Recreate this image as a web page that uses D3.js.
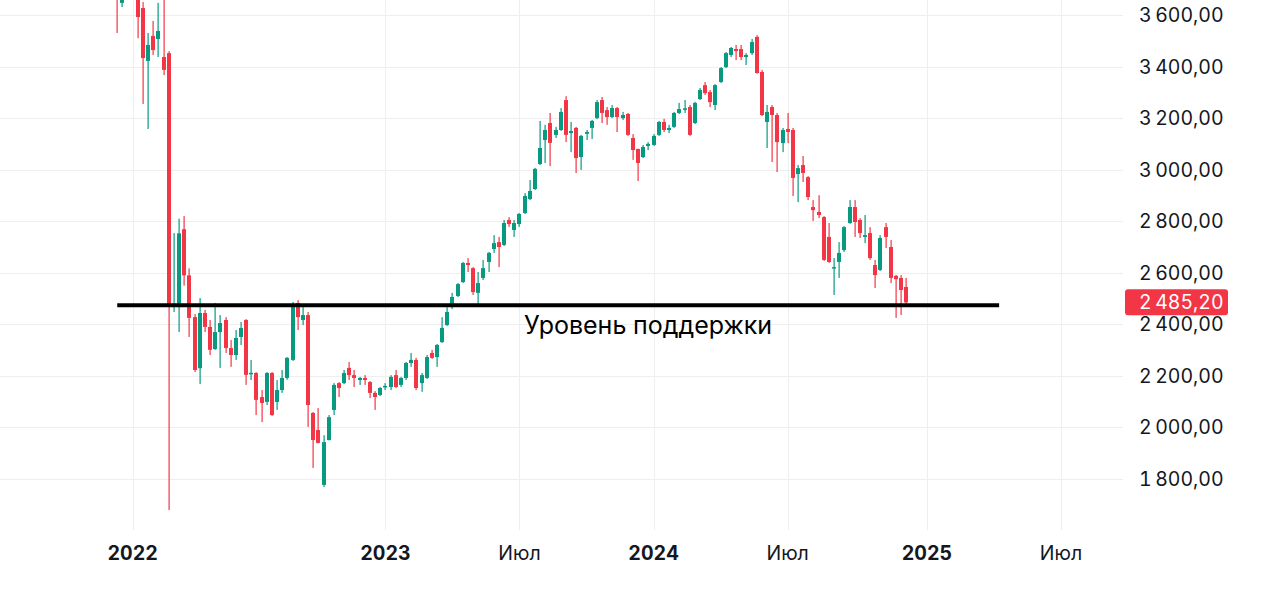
<!DOCTYPE html>
<html><head><meta charset="utf-8">
<script src="https://cdn.jsdelivr.net/npm/d3@7"></script>
<style>html,body{margin:0;padding:0;background:#fff;}svg{display:block;}text{font-variant-numeric:tabular-nums;}</style>
</head><body>
<svg id="chart" width="1280" height="590"></svg>
<script>
// ---- DATA (weekly candles, bar index relative to first week of 2022) ----
const firstBarIndex = -3;
const open = [
  3790,3647,3720,3800,3700,3627,3422,3519,3507,3437,
  3452,2470,2467,2769,2590,2428,2230,2444,2390,2304,
  2370,2417,2308,2281,2351,2417,2207,2211,2118,2099,
  2211,2099,2145,2192,2262,2483,2417,2436,2056,1990,
  1777,1951,2068,2172,2172,2231,2203,2184,2192,2176,
  2134,2126,2157,2157,2203,2165,2192,2250,2262,2172,
  2192,2289,2273,2331,2397,2467,2510,2564,2638,2618,
  2522,2580,2642,2692,2719,2708,2805,2766,2789,2832,
  2886,2925,3022,3115,3181,3135,3154,3270,3142,3162,
  3049,3139,3162,3200,3270,3231,3204,3239,3200,3216,
  3123,3080,3049,3092,3096,3135,3185,3154,3166,3220,
  3232,3243,3181,3274,3328,3301,3251,3340,3398,3445,
  3468,3468,3437,3452,3515,3379,3185,3243,3212,3103,
  3158,3154,2983,3018,2971,2855,2836,2816,2739,2618,
  2642,2688,2793,2855,2805,2739,2754,2630,2611,2777,
  2700,2588,2580,2545
];
const high = [
  3850,3760,3840,3880,3740,3650,3530,3577,3647,3680,
  3460,2754,2810,2820,2617,2440,2502,2456,2417,2483,
  2436,2428,2339,2378,2409,2420,2262,2215,2145,2215,
  2215,2184,2223,2273,2487,2494,2467,2448,2060,2075,
  1970,2048,2172,2176,2223,2254,2223,2196,2203,2180,
  2141,2157,2172,2203,2223,2196,2254,2289,2270,2211,
  2281,2301,2324,2428,2467,2522,2560,2642,2657,2622,
  2603,2650,2681,2746,2739,2805,2816,2805,2832,2909,
  2960,3007,3189,3174,3220,3166,3239,3285,3185,3166,
  3135,3154,3193,3270,3282,3243,3251,3243,3224,3220,
  3138,3082,3096,3107,3138,3189,3197,3174,3224,3259,
  3270,3251,3263,3317,3340,3309,3332,3398,3456,3476,
  3484,3484,3452,3507,3522,3387,3251,3251,3220,3162,
  3220,3162,3018,3053,2975,2882,2901,2820,2793,2657,
  2719,2781,2882,2882,2812,2824,2777,2650,2746,2793,
  2727,2592,2591,2580
];
const low = [
  3530,3631,3680,3700,3510,3255,3158,3445,3437,3367,
  1680,2448,2370,2550,2351,2215,2168,2370,2281,2301,
  2231,2289,2235,2262,2320,2165,2184,2048,2021,2087,
  2045,2068,2134,2185,2258,2378,2397,2002,1843,1938,
  1769,1950,2048,2118,2168,2184,2157,2165,2165,2114,
  2068,2122,2145,2145,2153,2157,2184,2235,2145,2138,
  2188,2266,2235,2328,2394,2459,2506,2560,2603,2514,
  2467,2572,2603,2677,2622,2704,2778,2739,2778,2828,
  2882,2921,3018,3026,3014,3123,3150,3107,3068,2987,
  2999,3115,3119,3196,3181,3174,3200,3146,3193,3131,
  3038,2956,3045,3076,3092,3131,3146,3142,3162,3216,
  3220,3131,3177,3270,3290,3243,3231,3336,3394,3437,
  3425,3425,3406,3445,3372,3208,3084,3030,2991,3068,
  3103,2898,2874,2952,2882,2801,2812,2646,2638,2514,
  2580,2681,2790,2739,2735,2715,2650,2541,2607,2696,
  2560,2425,2436,2467
];
const close = [
  3690,3720,3790,3750,3592,3433,3484,3464,3538,3387,
  2475,2480,2753,2590,2425,2223,2444,2390,2301,2370,
  2405,2308,2281,2347,2386,2204,2212,2107,2095,2211,
  2048,2145,2192,2270,2475,2428,2436,2087,1951,1940,
  1943,2040,2165,2153,2211,2203,2192,2192,2184,2134,
  2118,2153,2161,2196,2157,2192,2250,2262,2153,2203,
  2273,2270,2320,2386,2448,2506,2556,2638,2630,2525,
  2560,2618,2677,2715,2700,2793,2789,2793,2828,2898,
  2917,3003,3084,3154,3104,3154,3224,3135,3150,3045,
  3131,3146,3189,3262,3220,3204,3239,3204,3212,3135,
  3076,3026,3088,3100,3131,3185,3154,3162,3220,3235,
  3238,3135,3259,3309,3297,3262,3328,3394,3452,3472,
  3460,3437,3445,3495,3375,3212,3224,3212,3107,3154,
  3146,2968,3006,2987,2894,2843,2824,2650,2642,2622,
  2677,2777,2855,2797,2754,2746,2657,2591,2735,2739,
  2580,2575,2533,2485.2
];
const yTicks = [1800, 2000, 2200, 2400, 2600, 2800, 3000, 3200, 3400, 3600];
const xTickLabels = ["2022", "2023", "Июл", "2024", "Июл", "2025", "Июл"];
const xTickBars = [0, 49, 75, 101, 127, 154, 180];
const xTickIsYear = [true, true, false, true, false, true, false];
const supportLevel = 2474;
const supportFromBar = -3;
const supportToBar = 168;
const supportLabel = "Уровень поддержки";
const lastPrice = 2485.20;

// ---- LAYOUT ----
const W = 1280, H = 590;
const plotRight = 1123, plotBottom = 530;
const svg = d3.select("#chart");
const x = d3.scaleLinear().domain([0, 180]).range([132.7, 1061]);
const y = d3.scaleLinear().domain([1800, 3600]).range([479, 15]);
const GREEN = "#089981", RED = "#f23645", GRID = "#eeeeee", TEXT = "#131722";
const FONT = "Inter, 'Noto Sans', sans-serif";

const locale = d3.formatLocale({decimal: ",", thousands: "\u2009", grouping: [3], currency: ["", ""]});
const fmt = locale.format(",.2f");

// grid
const g = svg.append("g");
g.selectAll("line.h").data(yTicks).join("line")
  .attr("x1", 0).attr("x2", plotRight)
  .attr("y1", d => Math.round(y(d)) + 0.5).attr("y2", d => Math.round(y(d)) + 0.5)
  .attr("stroke", GRID).attr("stroke-width", 1);
g.selectAll("line.v").data(xTickBars).join("line")
  .attr("x1", d => Math.round(x(d)) + 0.5).attr("x2", d => Math.round(x(d)) + 0.5)
  .attr("y1", 0).attr("y2", plotBottom)
  .attr("stroke", GRID).attr("stroke-width", 1);

// candles
const candles = open.map((o, i) => ({i: firstBarIndex + i, o, h: high[i], l: low[i], c: close[i]}));
const bodyW = 4;
const cg = svg.append("g");
cg.selectAll("rect.wick").data(candles).join("rect")
  .attr("x", d => Math.round(x(d.i)) - 0.5)
  .attr("width", 1.2)
  .attr("y", d => y(d.h))
  .attr("height", d => Math.max(1, y(d.l) - y(d.h)))
  .attr("fill", d => d.c >= d.o ? GREEN : RED);
cg.selectAll("rect.body").data(candles).join("rect")
  .attr("x", d => Math.round(x(d.i)) - bodyW / 2)
  .attr("width", bodyW)
  .attr("y", d => y(Math.max(d.o, d.c)))
  .attr("height", d => Math.max(1.5, Math.abs(y(d.o) - y(d.c))))
  .attr("fill", d => d.c >= d.o ? GREEN : RED);

// support line
svg.append("line")
  .attr("x1", x(supportFromBar)).attr("x2", x(supportToBar))
  .attr("y1", y(supportLevel)).attr("y2", y(supportLevel))
  .attr("stroke", "#000").attr("stroke-width", 4);
svg.append("text")
  .attr("x", 648).attr("y", y(supportLevel) + 29)
  .attr("text-anchor", "middle")
  .attr("font-family", FONT).attr("font-size", 25)
  .attr("fill", "#000")
  .text(supportLabel);

// y axis labels
svg.append("g").selectAll("text").data(yTicks).join("text")
  .attr("x", 1139).attr("y", d => y(d))
  .attr("dy", "0.36em")
  .attr("font-family", FONT).attr("font-size", 19.5)
  .attr("fill", TEXT)
  .text(d => fmt(d));

// last price badge
const lp = svg.append("g");
lp.append("rect")
  .attr("x", 1125).attr("y", y(lastPrice) - 13)
  .attr("width", 103).attr("height", 26).attr("rx", 3)
  .attr("fill", RED);
lp.append("text")
  .attr("x", 1139).attr("y", y(lastPrice)).attr("dy", "0.36em")
  .attr("font-family", FONT).attr("font-size", 19.5)
  .attr("fill", "#fff")
  .text(fmt(lastPrice));

// x axis labels
svg.append("g").selectAll("text").data(xTickBars).join("text")
  .attr("x", d => x(d)).attr("y", 553).attr("dy", "0.36em")
  .attr("text-anchor", "middle")
  .attr("font-family", FONT).attr("font-size", 19.5)
  .attr("font-weight", (d, i) => xTickIsYear[i] ? 700 : 400)
  .attr("fill", TEXT)
  .text((d, i) => xTickLabels[i]);
</script>
</body></html>
